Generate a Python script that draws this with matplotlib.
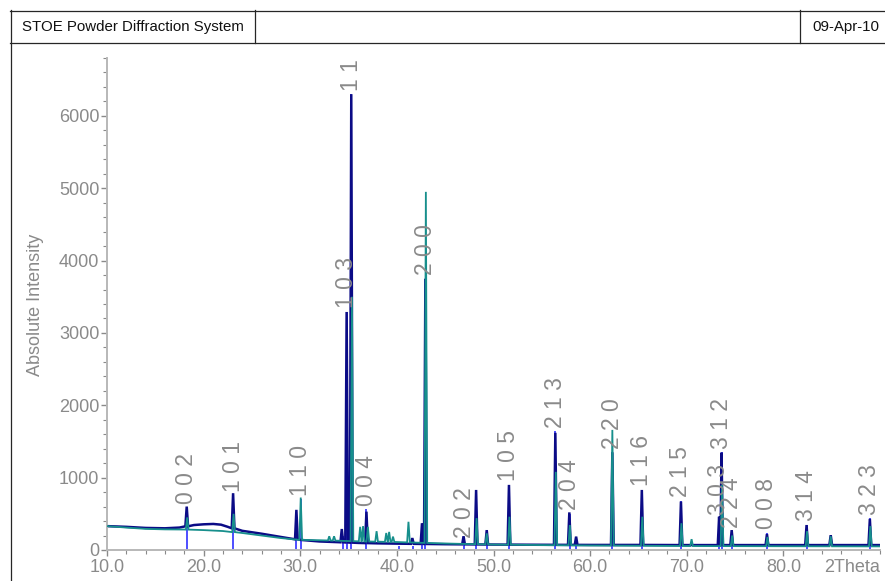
import numpy as np
import matplotlib
matplotlib.use("Agg")
import matplotlib.pyplot as plt
from matplotlib.lines import Line2D
from matplotlib.ticker import MultipleLocator

plt.rcParams['font.family'] = ['Liberation Sans', 'DejaVu Sans']

# ---- measured pattern 1 (navy) ----
navy_bg_2t = [10, 12, 14, 16, 17.5, 19, 20, 21, 21.8, 22.5, 24, 26, 28, 30, 32, 34, 36, 38, 40,
              45, 50, 55, 60, 65, 70, 75, 80, 85, 90]
navy_bg_cnt = [330, 320, 305, 300, 310, 345, 355, 360, 350, 320, 265, 225, 180, 140, 118, 108, 98, 92, 88,
               80, 75, 72, 70, 70, 68, 68, 68, 68, 68]
navy_pk_2t = [18.25, 23.05, 29.6, 34.3, 34.8, 35.28, 36.85, 41.6, 42.6, 42.95, 46.9, 48.2, 49.3,
              51.6, 56.4, 57.85, 58.55, 62.3, 65.35, 69.4, 73.35, 73.6, 74.65, 78.3, 82.4, 84.9, 88.95]
navy_pk_cnt = [600, 785, 555, 290, 3290, 6300, 530, 165, 370, 3750, 190, 830, 275,
               900, 1620, 520, 185, 1350, 830, 670, 460, 1345, 275, 220, 345, 205, 430]

# ---- measured pattern 2 (teal) ----
teal_bg_2t = [10, 12, 14, 16, 18, 20, 22, 24, 26, 28, 30, 32, 34, 36, 38, 40,
              45, 50, 55, 60, 70, 80, 90]
teal_bg_cnt = [330, 310, 292, 285, 283, 275, 262, 235, 200, 165, 140, 135, 128, 120, 115, 110,
               90, 75, 68, 62, 55, 52, 50]
teal_pk_2t = [18.3, 23.1, 30.05, 33.0, 33.5, 35.35, 36.2, 36.5, 37.0, 37.9, 38.9, 39.2, 39.6, 41.2,
              43.0, 48.25, 49.3, 51.65, 56.45, 57.9, 62.3, 65.4, 69.45, 70.5, 73.65, 74.7, 78.35,
              82.45, 84.9, 89.0]
teal_pk_cnt = [450, 500, 725, 190, 190, 3500, 320, 330, 320, 260, 235, 250, 185, 390,
               4950, 440, 230, 460, 1080, 345, 1660, 460, 370, 150, 900, 200, 180,
               260, 190, 330]

# ---- reference lines (hkl) ----
ref_2t = [18.25, 23.05, 30.05, 34.8, 35.28, 36.85, 42.95, 46.95, 51.6, 56.4, 57.9, 62.3,
          65.35, 69.4, 73.3, 73.6, 74.65, 78.3, 82.4, 88.95]
ref_cnt = [590, 760, 700, 3290, 6300, 560, 3750, 120, 900, 1640, 500, 1350,
           830, 680, 440, 1350, 260, 240, 350, 440]
ref_hkl = ['0 0 2', '1 0 1', '1 1 0', '1 0 3', '1 1 2', '0 0 4', '2 0 0', '2 0 2', '1 0 5',
           '2 1 3', '2 0 4', '2 2 0', '1 1 6', '2 1 5', '3 0 3', '3 1 2', '2 2 4', '0 0 8',
           '3 1 4', '3 2 3']
# unlabelled reference lines
extra_2t = [29.6, 34.4, 40.27, 41.64, 42.57, 48.2, 49.3, 58.55]
extra_cnt = [400, 200, 60, 60, 300, 600, 200, 120]

x_ticks = [10, 20, 30, 40, 50, 60, 70, 80]
x_ticklabels = ['10.0', '20.0', '30.0', '40.0', '50.0', '60.0', '70.0', '80.0']
y_ticks = [0, 1000, 2000, 3000, 4000, 5000, 6000]

NAVY = '#0b0b86'
TEAL = '#178f8c'
STICK = '#3030ff'
GREY = '#8a8a8a'
AXGREY = '#b8b8b8'


def trace(bg_x, bg_y, pk_x, pk_y, hw=0.14):
    """Background polyline with a sharp spike at every listed reflection."""
    bg_x = np.asarray(bg_x, float)
    bg_y = np.asarray(bg_y, float)
    pk_x = np.asarray(pk_x, float)
    pk_y = np.asarray(pk_y, float)
    keep = np.array([np.all(np.abs(pk_x - b) > hw) for b in bg_x])
    xs = list(bg_x[keep])
    ys = list(bg_y[keep])
    base = np.interp(pk_x, bg_x, bg_y)
    for p, h, b in zip(pk_x, pk_y, base):
        xs += [p - hw, p, p + hw]
        ys += [b, h, b]
    order = np.argsort(xs, kind='stable')
    return np.asarray(xs)[order], np.asarray(ys)[order]


W, H = 885, 581
fig = plt.figure(figsize=(W / 100, H / 100), dpi=100)
fig.patch.set_facecolor('white')


def fx(px):
    return px / W


def fy(py):
    return 1 - py / H


# page frame and header strip
frame_kw = dict(color='#262626', lw=0.9, transform=fig.transFigure)
fig.add_artist(Line2D([fx(10), 1.01], [fy(10.5), fy(10.5)], **frame_kw))
fig.add_artist(Line2D([fx(10), 1.01], [fy(43), fy(43)], **frame_kw))
fig.add_artist(Line2D([fx(10.5), fx(10.5)], [fy(10), -0.01], **frame_kw))
fig.add_artist(Line2D([fx(255), fx(255)], [fy(10), fy(43)], **frame_kw))
fig.add_artist(Line2D([fx(800), fx(800)], [fy(10), fy(43)], **frame_kw))
fig.text(fx(22), fy(27), 'STOE Powder Diffraction System', fontsize=10.8,
         color='#111111', va='center', ha='left')
fig.text(fx(812), fy(27), '09-Apr-10', fontsize=10.8, color='#111111',
         va='center', ha='left')

ax = fig.add_axes([fx(107), fy(550), fx(880) - fx(107), fy(58) - fy(550)])
ax.set_xlim(10, 90)
ax.set_ylim(0, 6800)

# reference sticks
ax.vlines(ref_2t, 0, ref_cnt, color=STICK, lw=1.2, zorder=1)
ax.vlines(extra_2t, 0, extra_cnt, color=STICK, lw=1.2, zorder=1)

nx, ny = trace(navy_bg_2t, navy_bg_cnt, navy_pk_2t, navy_pk_cnt)
tx, ty = trace(teal_bg_2t, teal_bg_cnt, teal_pk_2t, teal_pk_cnt)
ax.plot(nx, ny, color=NAVY, lw=1.8, zorder=2, solid_joinstyle='miter')
ax.plot(tx, ty, color=TEAL, lw=1.3, zorder=3, solid_joinstyle='miter')

# hkl labels above the reference lines
for pos, cnt, hkl in zip(ref_2t, ref_cnt, ref_hkl):
    ax.annotate(hkl, xy=(pos, cnt), xytext=(0, 2.5), textcoords='offset points',
                rotation=90, ha='center', va='bottom', fontsize=16.5,
                color=GREY, annotation_clip=False, clip_on=True, zorder=4)

for s in ('top', 'right'):
    ax.spines[s].set_visible(False)
for s in ('left', 'bottom'):
    ax.spines[s].set_color(AXGREY)
    ax.spines[s].set_linewidth(1.4)

ax.set_xticks(x_ticks)
ax.set_xticklabels(x_ticklabels)
ax.xaxis.set_minor_locator(MultipleLocator(2))
ax.set_yticks(y_ticks)
ax.yaxis.set_minor_locator(MultipleLocator(200))
ax.tick_params(axis='both', which='major', direction='out', length=4, width=1,
               color=GREY, labelcolor=GREY, labelsize=13)
ax.tick_params(axis='y', which='major', pad=1.5)
ax.tick_params(axis='x', which='major', pad=2.5)
ax.tick_params(axis='both', which='minor', direction='out', length=3, width=0.8,
               color=GREY)
ax.text(90, -0.018, '2Theta', transform=ax.get_xaxis_transform(), ha='right',
        va='top', fontsize=13, color=GREY)
fig.text(fx(35), fy(305), 'Absolute Intensity', rotation=90, fontsize=13,
         color=GREY, ha='center', va='center')

fig.savefig('out.png', dpi=100, facecolor='white')
